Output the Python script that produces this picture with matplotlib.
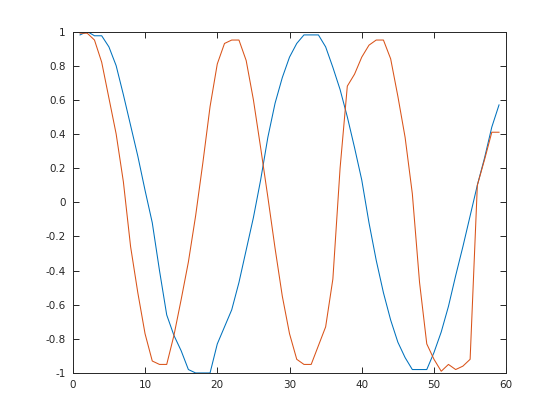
import matplotlib
matplotlib.use("Agg")
import matplotlib.pyplot as plt
from matplotlib.ticker import FuncFormatter

x = list(range(1, 60))

blue = [0.98, 1.0, 0.975, 0.975, 0.91, 0.80, 0.63, 0.45, 0.27, 0.07,
        -0.12, -0.40, -0.66, -0.78, -0.87, -0.98, -1.0, -1.0, -1.0, -0.83,
        -0.73, -0.63, -0.47, -0.28, -0.09, 0.13, 0.38, 0.58, 0.73, 0.85,
        0.93, 0.98, 0.98, 0.98, 0.91, 0.79, 0.66, 0.50, 0.32, 0.13,
        -0.12, -0.34, -0.53, -0.69, -0.82, -0.91, -0.98, -0.98, -0.98, -0.88,
        -0.76, -0.61, -0.43, -0.26, -0.08, 0.10, 0.26, 0.44, 0.57]

red = [0.99, 0.99, 0.95, 0.82, 0.61, 0.40, 0.12, -0.26, -0.53, -0.77,
       -0.93, -0.95, -0.95, -0.78, -0.57, -0.35, -0.08, 0.23, 0.56, 0.81,
       0.93, 0.95, 0.95, 0.83, 0.60, 0.32, 0.03, -0.27, -0.55, -0.77,
       -0.92, -0.95, -0.95, -0.84, -0.73, -0.45, 0.20, 0.68, 0.75, 0.85,
       0.92, 0.95, 0.95, 0.84, 0.62, 0.38, 0.05, -0.47, -0.83, -0.92,
       -0.99, -0.95, -0.98, -0.96, -0.92, 0.10, 0.25, 0.41, 0.41]

xticks = [0, 10, 20, 30, 40, 50, 60]
yticks = [-1, -0.8, -0.6, -0.4, -0.2, 0, 0.2, 0.4, 0.6, 0.8, 1]

plt.rcParams['axes.unicode_minus'] = False
plt.rcParams['font.family'] = ['DejaVu Sans']

fig = plt.figure(figsize=(5.6, 4.2), dpi=100)
ax = fig.add_axes([0.13, 0.112, 0.774, 0.813])

ax.plot(x, blue, color='#0072BD', linewidth=0.75)
ax.plot(x, red, color='#D95319', linewidth=0.75)

ax.set_xlim(0, 60)
ax.set_ylim(-1, 1)
ax.set_xticks(xticks)
ax.set_yticks(yticks)
ax.yaxis.set_major_formatter(FuncFormatter(lambda v, p: '%g' % round(v, 2)))

axc = '#262626'
for s in ax.spines.values():
    s.set_color(axc)
    s.set_linewidth(0.7)
ax.tick_params(direction='in', length=4, width=0.7, colors=axc,
               labelsize=7.5, top=True, right=True, pad=5)

fig.savefig('out.png', dpi=100)
